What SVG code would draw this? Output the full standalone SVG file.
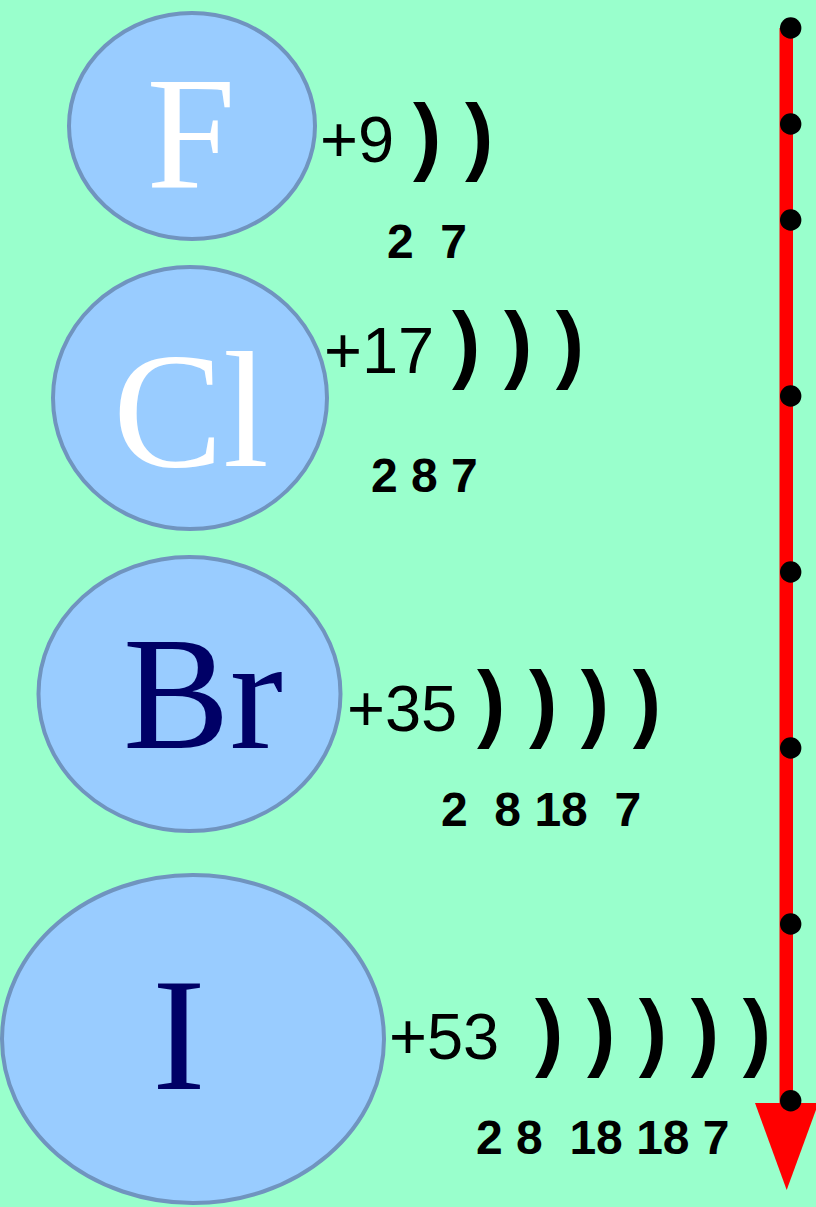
<svg xmlns="http://www.w3.org/2000/svg" width="816" height="1207" viewBox="0 0 816 1207">
<style>
.atom{fill:#99CCFF;stroke:#7094BF;stroke-width:4}
.sym{font-family:"Liberation Serif","Times New Roman",serif;font-size:160px}
.white{fill:#FFFFFF}
.navy{fill:#000066}
.charge{font-family:"Liberation Sans",Arial,sans-serif;font-size:65px;fill:#000}
.shell{font-family:"Liberation Sans",Arial,sans-serif;font-size:85px;font-weight:bold;fill:#000;white-space:pre}
.num{font-family:"Liberation Sans",Arial,sans-serif;font-size:48px;font-weight:bold;fill:#000;white-space:pre}
.dot{fill:#000}
</style>
<rect x="0" y="0" width="816" height="1207" fill="#99FFCC"/>
<g id="connectors">
<rect x="779.5" y="28" width="13.5" height="1076" fill="#FF0000"/>
<polygon points="755,1103 818.5,1103 786.7,1190" fill="#FF0000"/>
<circle class="dot" cx="790.7" cy="28" r="10.7"/>
<circle class="dot" cx="790.7" cy="124" r="10.7"/>
<circle class="dot" cx="790.7" cy="220" r="10.7"/>
<circle class="dot" cx="790.7" cy="396" r="10.7"/>
<circle class="dot" cx="790.7" cy="572" r="10.7"/>
<circle class="dot" cx="790.7" cy="748" r="10.7"/>
<circle class="dot" cx="790.7" cy="924" r="10.7"/>
<circle class="dot" cx="790.7" cy="1100.7" r="10.7"/>
</g>
<g id="F">
<ellipse class="atom" cx="192" cy="126" rx="123" ry="113"/>
<text class="sym white" x="191" y="188" text-anchor="middle">F</text>
<text class="charge" x="320" y="162">+9</text>
<text class="shell" x="413" y="164">) )</text>
<text class="num" x="387" y="258">2  7</text>
</g>
<g id="Cl">
<ellipse class="atom" cx="190" cy="398" rx="137" ry="131"/>
<text class="sym white" x="191" y="466" text-anchor="middle" style="font-size:165px">Cl</text>
<text class="charge" x="324" y="373">+17</text>
<text class="shell" x="452" y="372">) ) )</text>
<text class="num" x="371" y="492">2 8 7</text>
</g>
<g id="Br">
<ellipse class="atom" cx="189.5" cy="694" rx="151" ry="137"/>
<text class="sym navy" x="203" y="748" text-anchor="middle">Br</text>
<text class="charge" x="347" y="731">+35</text>
<text class="shell" x="477" y="731">) ) ) )</text>
<text class="num" x="441" y="826">2  8 18  7</text>
</g>
<g id="I">
<ellipse class="atom" cx="193" cy="1039" rx="191" ry="164"/>
<text class="sym navy" x="179" y="1089" text-anchor="middle">I</text>
<text class="charge" x="389" y="1059">+53</text>
<text class="shell" x="535" y="1060">) ) ) ) )</text>
<text class="num" x="476" y="1154">2 8  18 18 7</text>
</g>
</svg>
